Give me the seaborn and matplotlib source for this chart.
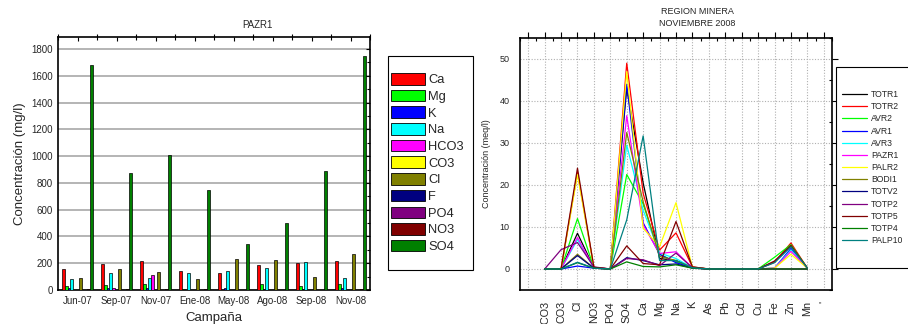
import numpy as np
import pandas as pd
import matplotlib
matplotlib.use("Agg")
import matplotlib.pyplot as plt
from matplotlib.patches import Patch, Rectangle
from matplotlib.lines import Line2D
from matplotlib.ticker import MultipleLocator, FixedLocator
import seaborn as sns

# ---------------- Left chart data (PAZR1, mg/l) ----------------
campaigns = ["Jun-07", "Sep-07", "Nov-07", "Ene-08", "May-08", "Ago-08", "Sep-08", "Nov-08"]
ions = ["Ca", "Mg", "K", "Na", "HCO3", "CO3", "Cl", "F", "PO4", "NO3", "SO4"]
Ca = [154, 191, 216, 142, 124, 186, 199, 214]
Mg = [30, 35, 42, 10, 0, 42, 30, 42]
K = [12, 12, 15, 0, 12, 10, 10, 12]
Na = [80, 129, 87, 124, 142, 164, 206, 87]
HCO3 = [0, 12, 109, 0, 0, 0, 0, 0]
CO3 = [0, 0, 0, 0, 0, 0, 0, 0]
Cl = [92, 154, 132, 82, 229, 221, 99, 268]
F = [0, 0, 0, 0, 0, 0, 0, 0]
PO4 = [0, 0, 0, 0, 0, 0, 0, 0]
NO3 = [5, 5, 5, 5, 0, 3, 0, 5]
SO4 = [1678, 875, 1009, 746, 341, 500, 890, 1750]
ion_values = [Ca, Mg, K, Na, HCO3, CO3, Cl, F, PO4, NO3, SO4]
ion_colors = ["#ff0000", "#00ff00", "#0000ff", "#00ffff", "#ff00ff", "#ffff00",
              "#808000", "#000080", "#800080", "#800000", "#008000"]

# ---------------- Right chart data (REGION MINERA, meq/l) ----------------
params = ["", "HCO3", "CO3", "Cl", "NO3", "PO4", "SO4", "Ca", "Mg", "Na", "K",
          "As", "Pb", "Cd", "Cu", "Fe", "Zn", "Mn", "'"]
measured = params[1:18]
stations = ["TOTR1", "TOTR2", "AVR2", "AVR1", "AVR3", "PAZR1", "PALR2", "BODI1",
            "TOTV2", "TOTP2", "TOTP5", "TOTP4", "PALP10"]
#            HCO3 CO3  Cl   NO3  PO4 SO4   Ca    Mg   Na    K    As Pb Cd Cu Fe   Zn   Mn
TOTR1  = [0, 0,   8.5, 0.3, 0, 43.0, 20.5, 2.5, 2.0,  0.4, 0, 0, 0, 0, 1.7, 5.5, 0.2]
TOTR2  = [0, 0,  23.0, 0.4, 0, 49.0, 18.0, 4.5, 8.6,  0.5, 0, 0, 0, 0, 1.6, 6.2, 0.2]
AVR2   = [0, 0,  12.0, 0.3, 0, 22.5, 15.5, 3.5, 1.7,  0.3, 0, 0, 0, 0, 2.8, 5.8, 0.2]
AVR1   = [0, 0,   0.7, 0.2, 0, 44.0, 11.0, 3.5, 1.5,  0.3, 0, 0, 0, 0, 0.2, 4.9, 0.2]
AVR3   = [0, 0,   7.0, 0.3, 0, 29.5, 14.0, 3.8, 2.5,  0.3, 0, 0, 0, 0, 0.2, 4.5, 0.2]
PAZR1  = [0, 0,   7.5, 0.3, 0, 36.5, 10.5, 3.7, 4.1,  0.3, 0, 0, 0, 0, 0.2, 4.2, 0.2]
PALR2  = [0, 0,  22.5, 0.3, 0, 47.0,  9.7, 5.3, 15.8, 0.4, 0, 0, 0, 0, 0.2, 3.5, 0.2]
BODI1  = [0, 0,   3.5, 0.2, 0, 32.5, 16.0, 3.0, 2.0,  0.3, 0, 0, 0, 0, 0.0, 0.0, 0.0]
TOTV2  = [0, 0,   3.2, 0.2, 0,  2.7,  2.0, 1.0, 1.2,  0.2, 0, 0, 0, 0, 0.0, 0.0, 0.0]
TOTP2  = [0, 4.6, 6.3, 0.5, 0,  2.5,  2.2, 0.8, 3.8,  0.3, 0, 0, 0, 0, 0.0, 0.0, 0.0]
TOTP5  = [0, 0,  24.0, 0.4, 0,  5.5,  1.3, 1.0, 11.3, 0.5, 0, 0, 0, 0, 1.9, 5.6, 0.2]
TOTP4  = [0, 0,   1.5, 0.2, 0,  1.7,  0.6, 0.5, 1.0,  0.2, 0, 0, 0, 0, 0.0, 0.0, 0.0]
PALP10 = [0, 0,   1.6, 0.2, 0, 11.7, 31.7, 2.0, 2.0,  0.3, 0, 0, 0, 0, 1.5, 5.3, 0.2]
station_values = [TOTR1, TOTR2, AVR2, AVR1, AVR3, PAZR1, PALR2, BODI1,
                  TOTV2, TOTP2, TOTP5, TOTP4, PALP10]
station_colors = ["#000000", "#ff0000", "#00ff00", "#0000ff", "#00ffff", "#ff00ff",
                  "#ffff00", "#808000", "#000080", "#800080", "#800000", "#008000", "#008080"]

# ---------------- Build figure ----------------
sns.set_theme(style="white")
plt.rcParams["font.family"] = ["Liberation Sans", "DejaVu Sans"]

W, H = 908, 324
fig = plt.figure(figsize=(W / 100, H / 100), dpi=100)

def fx(px):
    return px / W

def fy(py):
    return 1 - py / H

# ---- Left: grouped bars ----
ax1 = fig.add_axes([fx(58), fy(290), fx(370) - fx(58), fy(37) - fy(290)])
rows = []
for ion, vals in zip(ions, ion_values):
    for c, v in zip(campaigns, vals):
        rows.append({"Campaña": c, "ion": ion, "val": v})
df1 = pd.DataFrame(rows)
sns.barplot(data=df1, x="Campaña", y="val", hue="ion", order=campaigns, hue_order=ions,
            palette=dict(zip(ions, ion_colors)), edgecolor="black", linewidth=0.5,
            saturation=1, legend=False, ax=ax1, zorder=3)
ax1.set_xlim(-0.5, len(campaigns) - 0.5)
ax1.set_ylim(0, 1890)
ax1.yaxis.set_major_locator(MultipleLocator(200))
ax1.yaxis.set_minor_locator(MultipleLocator(100))
ax1.xaxis.set_minor_locator(FixedLocator(np.arange(-0.5, len(campaigns), 1.0)))
ax1.grid(axis="y", which="major", color="#a8a8a8", linewidth=1.2, zorder=0)
ax1.set_axisbelow(True)
ax1.tick_params(axis="both", which="both", labelsize=7, direction="in", top=True, right=True,
                color="black", width=0.8)
ax1.tick_params(axis="both", which="major", length=3)
ax1.tick_params(axis="both", which="minor", length=2)
ax1.tick_params(axis="x", which="minor", length=4, direction="inout")
ax1.tick_params(axis="x", which="major", pad=4)
ax1.set_xlabel("Campaña", fontsize=9.5, labelpad=5)
ax1.set_ylabel("Concentración (mg/l)", fontsize=9.5, labelpad=4)
for s in ax1.spines.values():
    s.set_color("black")
    s.set_linewidth(1.2)
fig.text(fx(257), fy(25), "PAZR1", fontsize=7, ha="center", va="center")

# left legend
fig.add_artist(Rectangle((fx(388), fy(270)), fx(473) - fx(388), fy(56) - fy(270),
                         transform=fig.transFigure, facecolor="white", edgecolor="black",
                         linewidth=0.8))
handles1 = [Patch(facecolor=c, edgecolor="black", linewidth=0.6, label=l)
            for l, c in zip(ions, ion_colors)]
fig.legend(handles=handles1, loc="upper left", bbox_to_anchor=(fx(391), fy(73)),
           frameon=False, fontsize=9.3, handlelength=2.6, handleheight=1.0,
           handletextpad=0.3, labelspacing=0.27, borderpad=0, borderaxespad=0)

# ---- Right: lines ----
ax2 = fig.add_axes([fx(520), fy(290), fx(832) - fx(520), fy(38) - fy(290)])
rows = []
for st, vals in zip(stations, station_values):
    for i, (p, v) in enumerate(zip(measured, vals)):
        rows.append({"pos": i + 1, "param": p, "station": st, "val": v})
df2 = pd.DataFrame(rows)
sns.lineplot(data=df2, x="pos", y="val", hue="station", hue_order=stations,
             palette=dict(zip(stations, station_colors)), estimator=None, sort=False,
             linewidth=0.9, legend=False, ax=ax2)
ax2.set_xlim(-0.5, len(params) - 0.5)
ax2.set_ylim(-5, 55)
ax2.set_xticks(np.arange(len(params)))
ax2.set_xticklabels(params, rotation=90, fontsize=7.8)
ax2.yaxis.set_major_locator(MultipleLocator(10))
ax2.yaxis.set_minor_locator(MultipleLocator(5))
ax2.xaxis.set_minor_locator(FixedLocator(np.arange(-0.5, len(params), 1.0)))
ax2.grid(which="major", color="#b0b0b0", linestyle=(0, (1, 1.5)), linewidth=0.8)
ax2.tick_params(axis="both", which="major", labelsize=6.5, direction="out", length=4,
                top=True, right=True, width=0.8, color="black")
ax2.tick_params(axis="both", which="minor", direction="in", length=2, top=True, right=True,
                width=0.8, color="black")
ax2.tick_params(axis="x", which="major", labelsize=7.8, pad=4)
ax2.set_xlabel("")
ax2.set_ylabel("Concentración (meq/l)", fontsize=6.5, labelpad=6)
for s in ax2.spines.values():
    s.set_color("black")
    s.set_linewidth(1.2)
fig.text(fx(697), fy(12), "REGION MINERA", fontsize=6.5, ha="center", va="center")
fig.text(fx(697), fy(23.5), "NOVIEMBRE 2008", fontsize=6.5, ha="center", va="center")

# right legend
fig.add_artist(Rectangle((fx(836), fy(268)), fx(920) - fx(836), fy(67) - fy(268),
                         transform=fig.transFigure, facecolor="white", edgecolor="black",
                         linewidth=0.8, clip_on=False))
handles2 = [Line2D([0], [0], color=c, linewidth=0.9, label=l)
            for l, c in zip(stations, station_colors)]
fig.legend(handles=handles2, loc="upper left", bbox_to_anchor=(fx(842), fy(90)),
           frameon=False, fontsize=6.2, handlelength=2.9, handletextpad=0.5,
           labelspacing=0.37, borderpad=0, borderaxespad=0)

fig.savefig("out.png", dpi=100)
